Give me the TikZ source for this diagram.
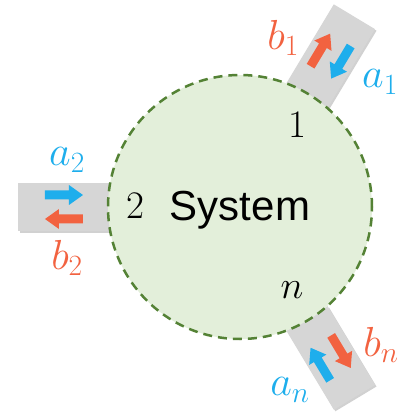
\documentclass[tikz,border=0pt]{standalone}
\usepackage{fix-cm}
\usepackage{fontspec}
\newfontfamily\sysfont{Liberation Sans}
\definecolor{pblue}{RGB}{30,174,236}
\definecolor{pred}{RGB}{242,98,64}
\definecolor{cfill}{RGB}{227,239,218}
\definecolor{cline}{RGB}{84,130,53}
\definecolor{pgray}{RGB}{214,214,214}
\newcommand\portdraw[1]{%
  \begin{scope}[shift={(1.6,-1.6)},rotate=#1]
    \fill[black,opacity=0.18] (130,-24) rectangle (222,24);
  \end{scope}
  \begin{scope}[rotate=#1]
    \fill[pgray] (130,-24) rectangle (222,24);
    \fill[pred] (157,7.5) -- (181,7.5) -- (181,2) -- (195,12) -- (181,22) -- (181,16.5) -- (157,16.5) -- cycle;
    \fill[pblue] (195,-7.5) -- (171,-7.5) -- (171,-2) -- (157,-12) -- (171,-22) -- (171,-16.5) -- (195,-16.5) -- cycle;
  \end{scope}}
\tikzset{
  sysc/.style={circle, minimum size=264pt, inner sep=0pt, outer sep=0pt, fill=cfill, draw=cline, line width=2.5pt, dash pattern=on 9pt off 6pt},
  lab/.style={inner sep=0pt, font=\fontsize{42}{48}\selectfont},
  alab/.style={lab, text=pblue},
  blab/.style={lab, text=pred},
  num/.style={inner sep=0pt, font=\fontsize{39}{45}\selectfont}
}
\begin{document}
\begin{tikzpicture}[x=1pt,y=1pt]
\useasboundingbox (-240,-205) rectangle (162,207);
\portdraw{59}
\portdraw{180}
\portdraw{-59}
\node[sysc] (sys) at (0,0) {};
\node[anchor=base, inner sep=0pt, font=\sysfont\fontsize{42}{48}\selectfont] (systxt) at (0,-13) {System};
\node[num] (n1) at (57,82) {$1$};
\node[num] (n2) at (-105,1) {$2$};
\node[num] (nn) at (52,-83) {$n$};
\node[alab] (a1) at (140,125) {$a_1$};
\node[blab] (b1) at (43,169) {$b_1$};
\node[alab] (a2) at (-173,47) {$a_2$};
\node[blab] (b2) at (-173,-51) {$b_2$};
\node[alab] (an) at (50,-183) {$a_n$};
\node[blab] (bn) at (141,-138) {$b_n$};
\end{tikzpicture}
\end{document}
